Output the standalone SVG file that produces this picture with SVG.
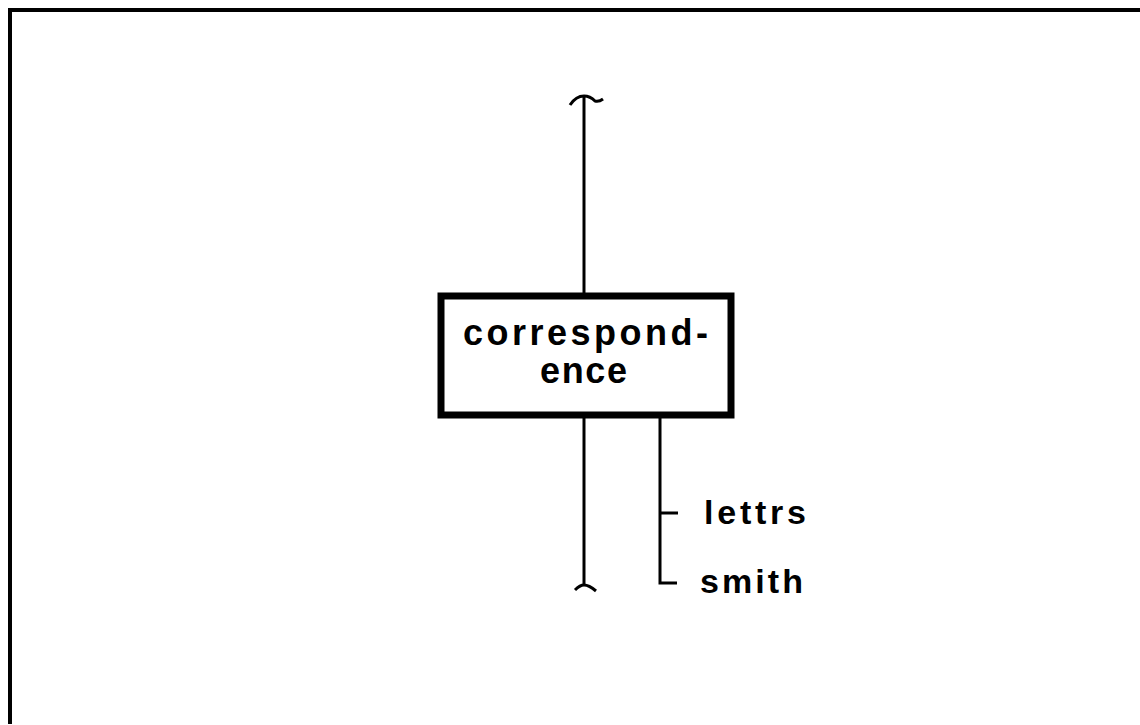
<svg xmlns="http://www.w3.org/2000/svg" width="1140" height="725" viewBox="0 0 1140 725">
<style>
.ln{fill:none;stroke:#000;stroke-width:3;stroke-linecap:butt;stroke-linejoin:miter}
.t{font-family:"Liberation Sans",Arial,sans-serif;font-weight:bold;fill:#000}
</style>
<rect width="1140" height="725" fill="#fff"/>
<g id="frame">
<path d="M10,724 L10,10 L1140,10" fill="none" stroke="#000" stroke-width="4"/>
</g>
<g id="connectors">
<path class="ln" d="M584,97 L584,293"/>
<path class="ln" d="M570,105 Q576,96 584,96 Q590,96 595,101 Q599,102 603,99"/>
<path class="ln" d="M584,418 L584,586"/>
<path class="ln" d="M575,590 Q580,585 584,585 Q589,585 596,591"/>
<path class="ln" d="M660,418 L660,583 L677,583"/>
<path class="ln" d="M660,513 L678,513"/>
</g>
<g id="node-correspondence">
<rect x="441" y="296" width="290" height="119" fill="#fff" stroke="#000" stroke-width="7"/>
<text class="t" x="463" y="345" font-size="36" textLength="245" lengthAdjust="spacing">correspond-</text>
<text class="t" x="540" y="383" font-size="36" textLength="87" lengthAdjust="spacing">ence</text>
</g>
<g id="label-lettrs">
<text class="t" x="704" y="524" font-size="34" textLength="102" lengthAdjust="spacing">lettrs</text>
</g>
<g id="label-smith">
<text class="t" x="700" y="593" font-size="34" textLength="103" lengthAdjust="spacing">smith</text>
</g>
</svg>
